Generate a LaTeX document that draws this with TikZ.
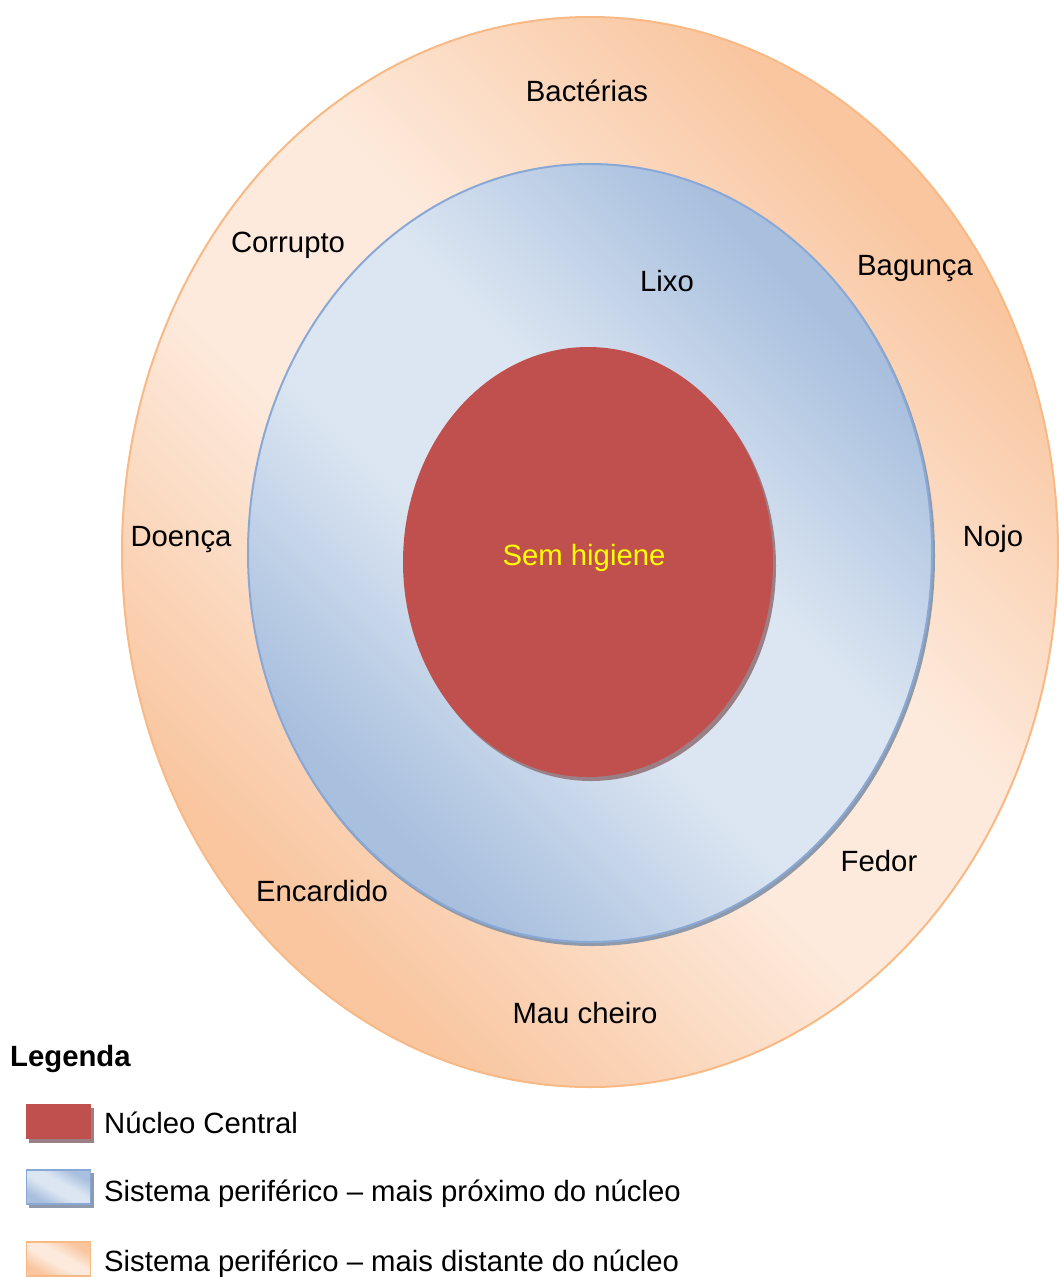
\documentclass[tikz,border=0pt]{standalone}
\usepackage{fontspec}
\setmainfont{Liberation Sans}
\usetikzlibrary{shapes.geometric}
\definecolor{redc}{HTML}{C0504D}
\definecolor{redshadow}{HTML}{9A8086}
\definecolor{bluedark}{HTML}{A8BFDE}
\definecolor{bluelight}{HTML}{DCE6F2}
\definecolor{blueline}{HTML}{8AA8D6}
\definecolor{blueshadow}{HTML}{8E9AAA}
\definecolor{ordark}{HTML}{F9C6A0}
\definecolor{orlight}{HTML}{FDEADC}
\definecolor{orline}{HTML}{F8B985}
\definecolor{semcol}{HTML}{FFFF00}
\pgfdeclareverticalshading{orshade}{100bp}{color(0bp)=(ordark); color(27bp)=(ordark); color(44bp)=(orlight); color(56bp)=(orlight); color(73bp)=(ordark); color(100bp)=(ordark)}
\pgfdeclareverticalshading{blshade}{100bp}{color(0bp)=(bluedark); color(27bp)=(bluedark); color(44bp)=(bluelight); color(56bp)=(bluelight); color(73bp)=(bluedark); color(100bp)=(bluedark)}
\begin{document}
\begin{tikzpicture}[x=1pt,y=-1pt,
  lbl/.style={font=\fontsize{29.3}{35}\selectfont, anchor=base, inner sep=0pt},
  ring/.style={ellipse, inner sep=0pt},
  orfill/.style={draw=orline, line width=2pt, shading=orshade, shading angle=-45},
  blfill/.style={draw=blueline, line width=2pt, shading=blshade, shading angle=-45},
  rdfill/.style={fill=redc},
  keybox/.style={rectangle, inner sep=0pt, minimum width=65pt, minimum height=35pt}
]
\useasboundingbox (0,0) rectangle (1059,1277);

% outer ring
\node[ring, orfill, minimum width=936pt, minimum height=1070pt] (outer) at (590,552) {};
% middle ring with shadow
\fill[blueshadow] (592,556) ellipse [x radius=343, y radius=390];
\node[ring, blfill, minimum width=684pt, minimum height=778pt] (middle) at (590,553) {};
% core with shadow
\fill[redshadow] (591,566) ellipse [x radius=185, y radius=215];
\node[ring, rdfill, minimum width=370pt, minimum height=430pt] (core) at (588,562) {};

\node[lbl, text=semcol] (sem) at (584,565) {Sem higiene};

\node[lbl] (bacterias) at (587,101) {Bactérias};
\node[lbl] (corrupto) at (288,252) {Corrupto};
\node[lbl] (lixo) at (667,291) {Lixo};
\node[lbl] (bagunca) at (915,275) {Bagunça};
\node[lbl] (doenca) at (181,546) {Doença};
\node[lbl] (nojo) at (993,546) {Nojo};
\node[lbl] (fedor) at (879,871) {Fedor};
\node[lbl] (encardido) at (322,901) {Encardido};
\node[lbl] (maucheiro) at (585,1023) {Mau cheiro};

% legend
\node[lbl, anchor=base west, font=\fontsize{29.3}{35}\selectfont\bfseries] (legenda) at (10,1066) {Legenda};

\fill[redshadow] (29,1108) rectangle (94,1143);
\node[keybox, fill=redc] (k1) at (58.5,1121.5) {};
\node[lbl, anchor=base west] (t1) at (104,1133) {Núcleo Central};

\fill[blueshadow] (29,1173) rectangle (94,1208);
\node[keybox, draw=blueline, line width=1.5pt, shading=blshade, shading angle=-30, minimum width=64pt, minimum height=34pt] (k2) at (58.5,1187) {};
\node[lbl, anchor=base west] (t2) at (104,1201) {Sistema periférico – mais próximo do núcleo};

\node[keybox, draw=orline, line width=1.5pt, shading=orshade, shading angle=-30, minimum width=64pt, minimum height=34pt] (k3) at (58.5,1259) {};
\node[lbl, anchor=base west] (t3) at (104,1271) {Sistema periférico – mais distante do núcleo};
\end{tikzpicture}
\end{document}
